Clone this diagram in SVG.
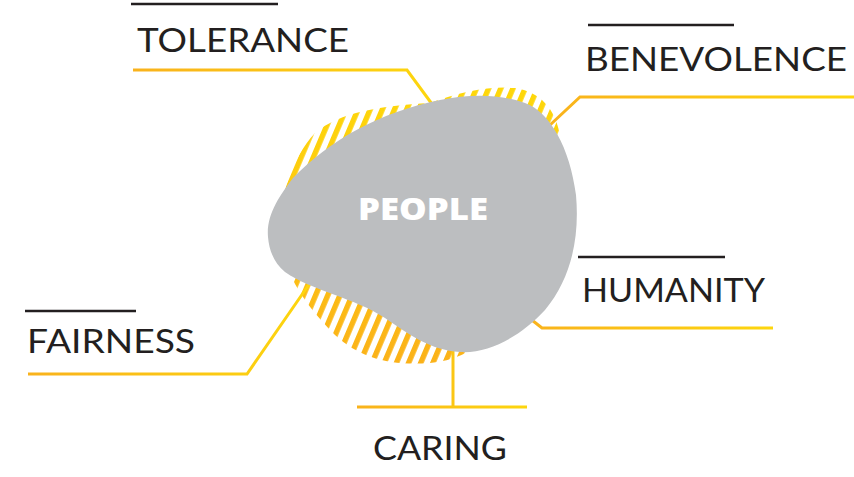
<svg xmlns="http://www.w3.org/2000/svg" width="854" height="477" viewBox="0 0 854 477">
  <style>
    .label { font-family: Lato, "Open Sans", "Liberation Sans", sans-serif; font-size: 32px; fill: #231F20; }
    .rule { stroke: #231F20; stroke-width: 2.5; fill: none; }
    .conn { stroke: url(#lineGrad); stroke-width: 3; fill: none; stroke-linejoin: miter; }
    .center-text { font-family: "Open Sans", Lato, "Liberation Sans", sans-serif; font-weight: 800; font-size: 30px; fill: #FFFFFF; }
  </style>
  <defs>
    <linearGradient id="lineGrad" x1="0" y1="0" x2="1" y2="0">
      <stop offset="0" stop-color="#F9B21C"/>
      <stop offset="1" stop-color="#FDD60E"/>
    </linearGradient>
    <linearGradient id="stripeGrad" gradientUnits="userSpaceOnUse" x1="0" y1="88" x2="0" y2="364">
      <stop offset="0" stop-color="#FED80A"/>
      <stop offset="1" stop-color="#FBB219"/>
    </linearGradient>
    <pattern id="stripePat" patternUnits="userSpaceOnUse" width="11.2" height="20" patternTransform="rotate(23)">
      <rect x="0" y="0" width="5.4" height="20" fill="#FFFFFF"/>
    </pattern>
    <mask id="stripeMask" maskUnits="userSpaceOnUse" x="0" y="0" width="854" height="477">
      <rect x="0" y="0" width="854" height="477" fill="url(#stripePat)"/>
    </mask>
  </defs>

  <g id="people-stripes">
    <path d="M280,230 C278,205 290,160 315,133 C340,112 380,106 430,103 C460,92 490,86 515,88 C540,92 555,108 560,135 L565,200 L500,330 C480,345 462,360 430,363 C390,366 360,358 335,335 C315,315 300,295 292,278 C285,265 281,250 280,230 Z" fill="url(#stripeGrad)" mask="url(#stripeMask)"/>
  </g>

  <g id="connectors">
    <path class="conn" d="M133,70 H407 L432,104"/>
    <path class="conn" d="M854,97 H580 L550,125"/>
    <path class="conn" d="M773,328 H542 L528,317"/>
    <path class="conn" d="M28,374 H247 L310,283"/>
    <path class="conn" d="M357,407 H527 M453,407 V345"/>
  </g>

  <g id="people">
    <path d="M268,237 C266,215 280,195 293,178 C330,140 380,112 440,100 C470,94 500,94 525,103 C550,112 570,148 576,195 C580,240 570,280 545,310 C522,335 490,354 460,352 C430,350 410,335 385,318 C355,298 310,290 285,272 C274,263 269,250 268,237 Z" fill="#BCBEC0"/>
    <text class="center-text" x="423" y="220" text-anchor="middle" textLength="130" lengthAdjust="spacingAndGlyphs">PEOPLE</text>
  </g>

  <g id="tolerance">
    <line class="rule" x1="131" y1="4" x2="278" y2="4"/>
    <text class="label" x="137" y="51.5" font-size="34" textLength="212" lengthAdjust="spacingAndGlyphs">TOLERANCE</text>
  </g>

  <g id="benevolence">
    <line class="rule" x1="588" y1="25" x2="734" y2="25"/>
    <text class="label" x="585" y="71" textLength="262" lengthAdjust="spacingAndGlyphs">BENEVOLENCE</text>
  </g>

  <g id="humanity">
    <line class="rule" x1="578" y1="257" x2="725" y2="257"/>
    <text class="label" x="582" y="302" textLength="183" lengthAdjust="spacingAndGlyphs">HUMANITY</text>
  </g>

  <g id="fairness">
    <line class="rule" x1="25" y1="311" x2="136" y2="311"/>
    <text class="label" x="27" y="353" textLength="168" lengthAdjust="spacingAndGlyphs">FAIRNESS</text>
  </g>

  <g id="caring">
    <text class="label" x="373" y="460" textLength="134" lengthAdjust="spacingAndGlyphs">CARING</text>
  </g>
</svg>
